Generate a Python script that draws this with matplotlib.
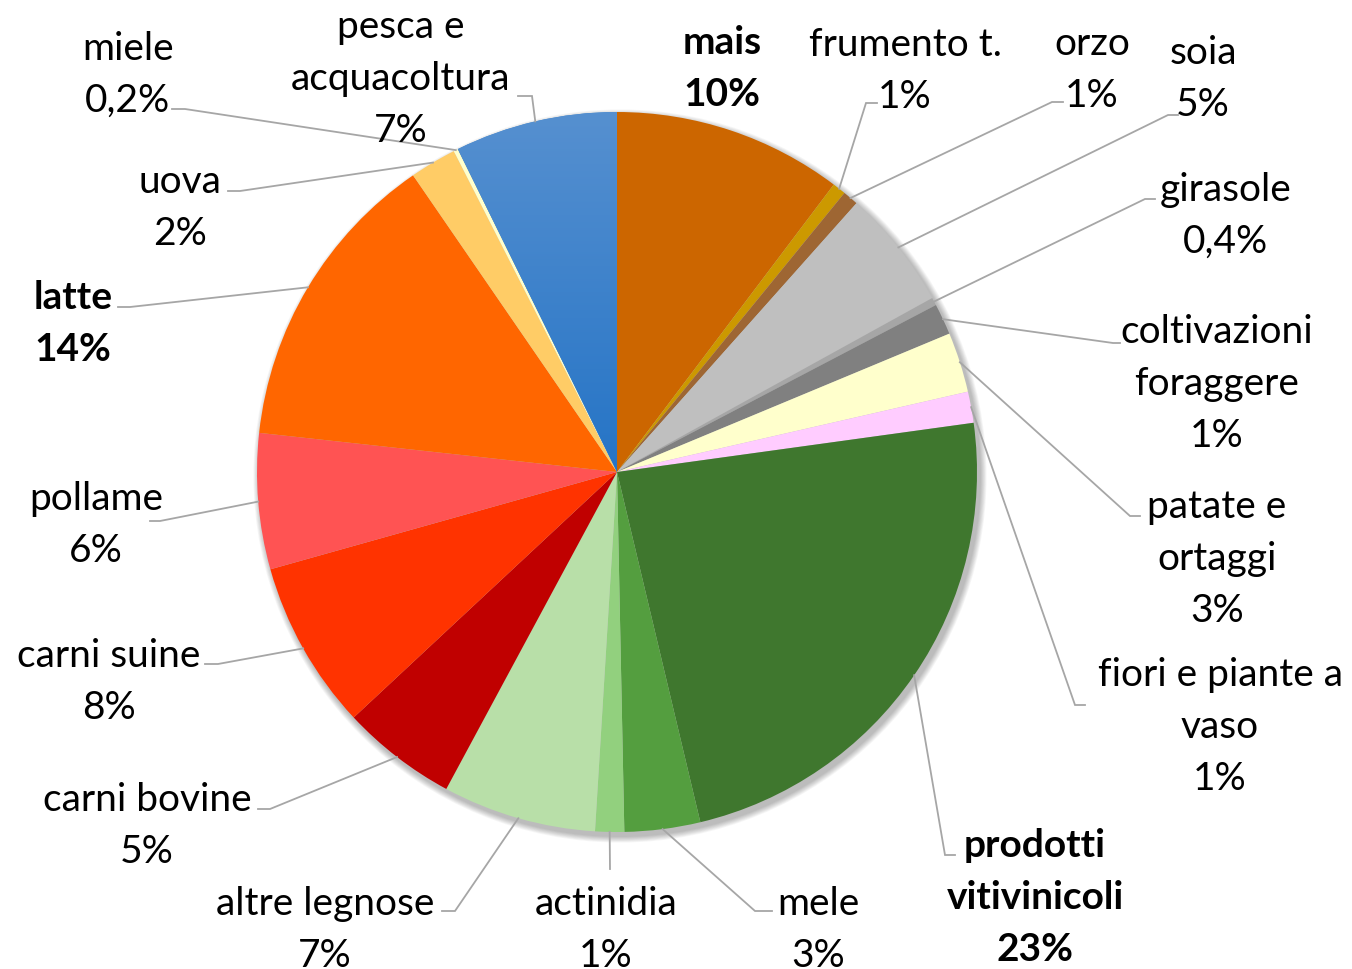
import matplotlib
matplotlib.use("Agg")
import matplotlib.pyplot as plt
import numpy as np
from matplotlib.colors import to_rgb

# ---------------- data ----------------
categories = ["mais", "frumento t.", "orzo", "soia", "girasole",
              "coltivazioni\nforaggere", "patate e\nortaggi", "fiori e piante a\nvaso",
              "prodotti\nvitivinicoli", "mele", "actinidia", "altre legnose",
              "carni bovine", "carni suine", "pollame", "latte", "uova", "miele",
              "pesca e\nacquacoltura"]
values = [10.3, 0.6, 0.7, 5.4, 0.35, 1.4, 2.7, 1.4, 23.5, 3.4, 1.3, 6.9,
          5.2, 7.6, 6.1, 13.7, 2.1, 0.2, 7.3]
pct_labels = ["10%", "1%", "1%", "5%", "0,4%", "1%", "3%", "1%", "23%", "3%", "1%",
              "7%", "5%", "8%", "6%", "14%", "2%", "0,2%", "7%"]
bold_cats = {"mais", "latte", "prodotti\nvitivinicoli"}

colors = ["#CC6600", "#CC9900", "#9E6633", "#BFBFBF", "#A6A6A6", "#808080",
          "#FFFFCC", "#FFCCFF", "#3F772E", "#549E3F", "#92D07E", "#B8DFA8",
          "#C00000", "#FF3300", "#FF5353", "#FF6600", "#FFCC66", "#FFFFCC",
          "#3F86CE"]

# ---------------- layout (pixel coordinates, y down) ----------------
CX, CY, R = 617, 473, 360
label_pos = [(722, 69), (905, 71), (1092, 70), (1203, 79), (1226, 216),
             (1217, 384), (1217, 559), (1220, 727), (1035, 898), (818, 930),
             (606, 930), (325, 930), (147, 826), (109, 682), (96, 525),
             (73, 324), (180, 208), (128, 75), (401, 79)]
elbows = [None, (866, 104), (1052, 103), (1168, 116), (1145, 200),
          (1113, 344), (1130, 517), (1075, 706), (945, 856), (755, 912),
          (610, 870), (455, 912), (270, 810), (218, 665), (160, 522),
          (130, 308), (240, 192), (185, 110), (532, 97)]
stub_end = [None, 877, 1063, 1178, 1155, 1120, 1140, 1085, 955, 772,
            610, 442, 258, 205, 150, 118, 228, 172, 518]
LINE_H = 52
FONT = "Lato"
FS = 28

fig = plt.figure(figsize=(13.52, 9.70), dpi=100)
ax = fig.add_axes([0, 0, 1, 1])
ax.set_xlim(0, 1352)
ax.set_ylim(970, 0)
ax.set_aspect("equal")
ax.axis("off")

# soft shadow
for k in range(8):
    ax.add_patch(plt.Circle((CX + 3, CY + 4), R + 1 + k * 0.8, color="black",
                            alpha=0.035, lw=0, zorder=0))

wedges, _ = ax.pie(values, colors=colors, startangle=-90, counterclock=True,
                   center=(CX, CY), radius=R, wedgeprops=dict(linewidth=0),
                   frame=True)
ax.set_xlim(0, 1352)
ax.set_ylim(970, 0)
ax.axis("off")
for w in wedges:
    w.set_zorder(2)

# gradient on the fishery slice
w = wedges[-1]
top = np.array(to_rgb("#5690D0"))
bot = np.array(to_rgb("#2574C6"))
t = np.linspace(0, 1, 256)[:, None, None]
grad = top * (1 - t) + bot * t
im = ax.imshow(grad, extent=(CX - R, CX + R, CY, CY - R), origin="upper",
               aspect="auto", zorder=3, interpolation="bilinear")
im.set_clip_path(w)
ax.set_xlim(0, 1352)
ax.set_ylim(970, 0)

# labels and leader lines
for i, w in enumerate(wedges):
    mid = np.deg2rad((w.theta1 + w.theta2) / 2)
    sx, sy = CX + R * np.cos(mid), CY + R * np.sin(mid)
    if elbows[i] is not None:
        ex, ey = elbows[i]
        ax.plot([sx, ex, stub_end[i]], [sy, ey, ey], color="#A6A6A6", lw=1.3,
                zorder=4, solid_joinstyle="miter")
    lines = categories[i].split("\n") + [pct_labels[i]]
    lx, ly = label_pos[i]
    n = len(lines)
    weight = "bold" if categories[i] in bold_cats else "normal"
    for j, s in enumerate(lines):
        yy = ly + (j - (n - 1) / 2) * LINE_H
        ax.text(lx, yy, s, ha="center", va="center", fontsize=FS,
                family=FONT, fontweight=weight, color="black", zorder=5)

fig.savefig("out.png", dpi=100, facecolor="white")
